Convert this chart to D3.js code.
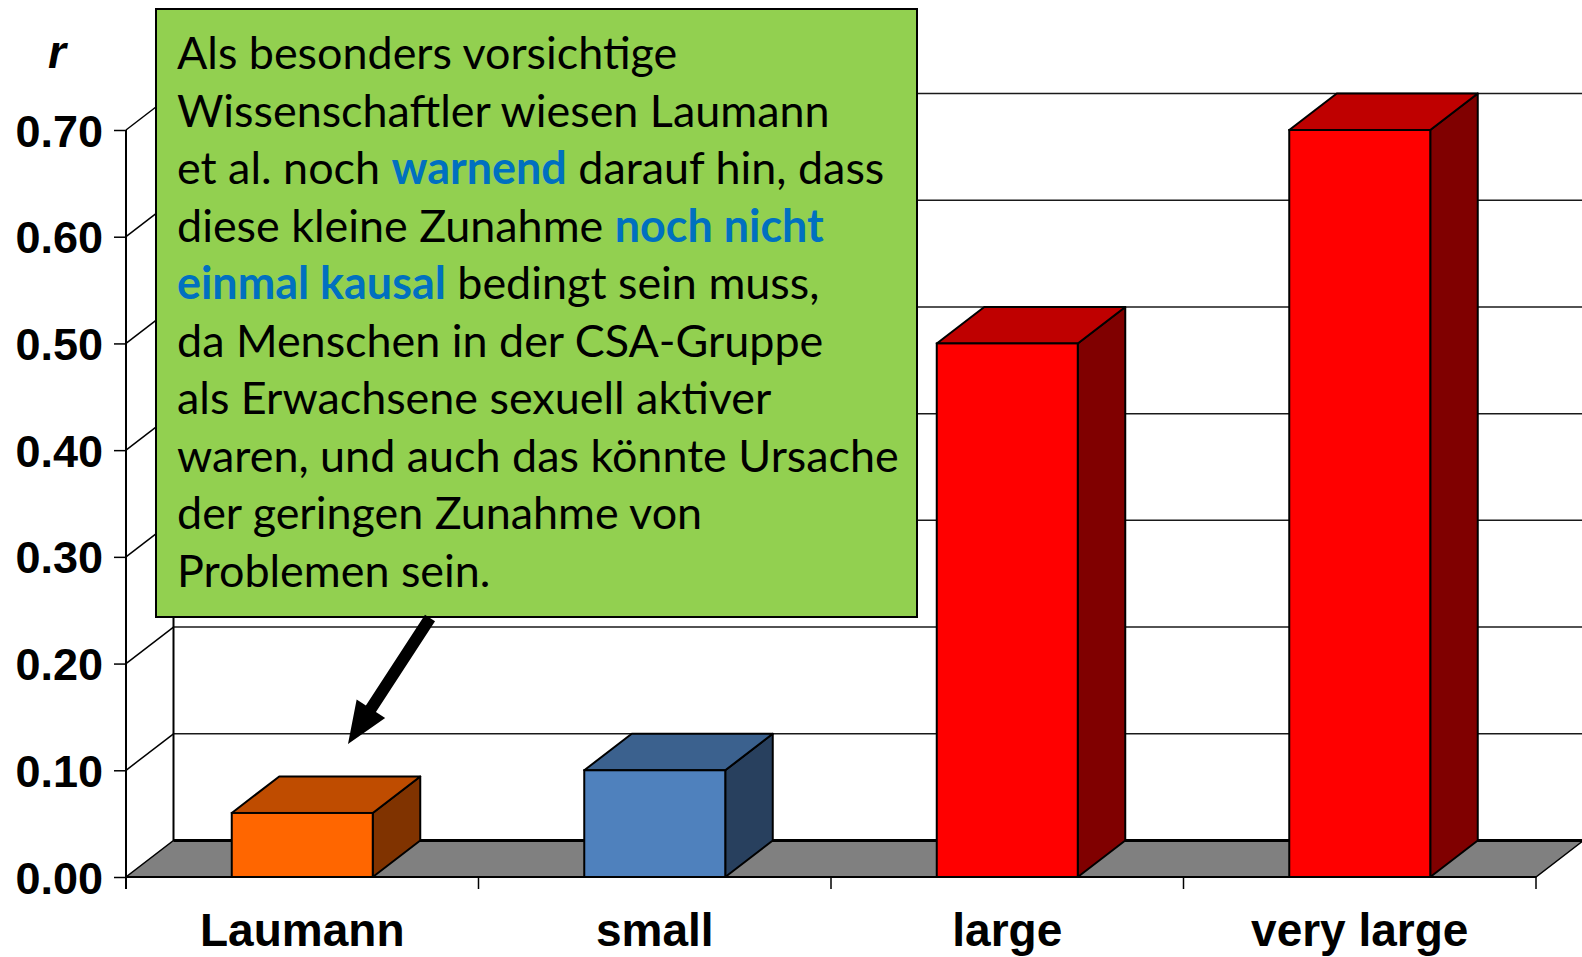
<!DOCTYPE html>
<html>
<head>
<meta charset="utf-8">
<script src="https://cdn.jsdelivr.net/npm/d3@7"></script>
<style>
  html, body { margin: 0; padding: 0; background: #fff; }
  svg { display: block; }
</style>
</head>
<body>
<div id="chart"></div>
<script>
// values
var categories = ["Laumann", "small", "large", "very large"];
var values = [0.06, 0.10, 0.50, 0.70];
var yTicks = [0, 0.1, 0.2, 0.3, 0.4, 0.5, 0.6, 0.7];

// bar colours: front, top, side
var frontColors = ["#FF6600", "#4F81BD", "#FF0000", "#FF0000"];
var topColors = ["#BF4C00", "#3B618E", "#BF0000", "#BF0000"];
var sideColors = ["#803300", "#28405E", "#800000", "#800000"];

// note text, one array per line, [text, highlighted]
var noteLines = [
  [["Als besonders vorsichtige", false]],
  [["Wissenschaftler wiesen Laumann", false]],
  [["et al. noch ", false], ["warnend", true], [" darauf hin, dass", false]],
  [["diese kleine Zunahme ", false], ["noch nicht", true]],
  [["einmal kausal", true], [" bedingt sein muss,", false]],
  [["da Menschen in der CSA-Gruppe", false]],
  [["als Erwachsene sexuell aktiver", false]],
  [["waren, und auch das könnte Ursache", false]],
  [["der geringen Zunahme von", false]],
  [["Problemen sein.", false]]
];

var width = 1582, height = 957;
var dx = 47.5, dy = -36.5;   // depth offset of the 3d look
var axisFont = "'Liberation Sans', Arial, sans-serif";

var svg = d3.select("#chart").append("svg")
    .attr("width", width)
    .attr("height", height);

var x = d3.scaleBand().domain(categories).range([126, 1536]).padding(0);
var y = d3.scaleLinear().domain([0, 0.7]).range([877, 130]);
var barW = x.bandwidth() * 0.4;
var x0 = x.range()[0], x1 = x.range()[1];

// back wall gridlines
svg.selectAll(".grid").data(yTicks.slice(1)).enter().append("line")
    .attr("x1", x0 + dx).attr("x2", x1 + dx)
    .attr("y1", function(d) { return y(d) + dy; })
    .attr("y2", function(d) { return y(d) + dy; })
    .attr("stroke", "#1a1a1a").attr("stroke-width", 1.5);

// side wall diagonals
svg.selectAll(".diag").data(yTicks.slice(1)).enter().append("line")
    .attr("x1", x0).attr("x2", x0 + dx)
    .attr("y1", function(d) { return y(d); })
    .attr("y2", function(d) { return y(d) + dy; })
    .attr("stroke", "#000").attr("stroke-width", 1.5);

// back wall left edge
svg.append("line")
    .attr("x1", x0 + dx).attr("x2", x0 + dx)
    .attr("y1", y(0) + dy).attr("y2", y(0.7) + dy)
    .attr("stroke", "#000").attr("stroke-width", 2);

// floor
svg.append("path")
    .attr("d", "M" + x0 + "," + y(0) + "L" + x1 + "," + y(0) +
      "L" + (x1 + dx) + "," + (y(0) + dy) + "L" + (x0 + dx) + "," + (y(0) + dy) + "Z")
    .attr("fill", "#808080").attr("stroke", "#000").attr("stroke-width", 1.5);
svg.append("line")
    .attr("x1", x0 + dx).attr("x2", x1 + dx)
    .attr("y1", y(0) + dy).attr("y2", y(0) + dy)
    .attr("stroke", "#000").attr("stroke-width", 3);

// bars
var bars = svg.selectAll(".bar").data(values).enter().append("g");
bars.each(function(v, i) {
  var g = d3.select(this);
  var bx = x(categories[i]) + (x.bandwidth() - barW) / 2;
  var top = y(v), base = y(0);
  g.append("path")
      .attr("d", "M" + (bx + barW) + "," + base + "L" + (bx + barW + dx) + "," + (base + dy) +
        "L" + (bx + barW + dx) + "," + (top + dy) + "L" + (bx + barW) + "," + top + "Z")
      .attr("fill", sideColors[i]).attr("stroke", "#000").attr("stroke-width", 2)
      .attr("stroke-linejoin", "round");
  g.append("path")
      .attr("d", "M" + bx + "," + top + "L" + (bx + dx) + "," + (top + dy) +
        "L" + (bx + barW + dx) + "," + (top + dy) + "L" + (bx + barW) + "," + top + "Z")
      .attr("fill", topColors[i]).attr("stroke", "#000").attr("stroke-width", 2)
      .attr("stroke-linejoin", "round");
  g.append("rect")
      .attr("x", bx).attr("y", top)
      .attr("width", barW).attr("height", base - top)
      .attr("fill", frontColors[i]).attr("stroke", "#000").attr("stroke-width", 2);
});

// y axis
var yAxis = svg.append("g")
    .attr("transform", "translate(" + x0 + ",0)")
    .call(d3.axisLeft(y).tickValues(yTicks).tickFormat(d3.format(".2f")).tickSize(12).tickPadding(11));
yAxis.select(".domain").attr("stroke-width", 2).attr("d", "M0," + y(0.7) + "V" + (y(0) + 12));
yAxis.selectAll(".tick line").attr("stroke-width", 1.5);
yAxis.selectAll(".tick text")
    .attr("font-family", axisFont).attr("font-weight", "bold")
    .attr("font-size", 45).attr("fill", "#000").attr("dy", "16px");

// x axis ticks at band edges
var xEdges = categories.map(function(c) { return x(c); }).concat([x1]);
svg.selectAll(".xtick").data(xEdges).enter().append("line")
    .attr("x1", function(d) { return d; }).attr("x2", function(d) { return d; })
    .attr("y1", y(0)).attr("y2", y(0) + 12)
    .attr("stroke", "#000").attr("stroke-width", 1.5);
svg.append("line")
    .attr("x1", x0).attr("x2", x1).attr("y1", y(0)).attr("y2", y(0))
    .attr("stroke", "#000").attr("stroke-width", 2);

svg.selectAll(".xlabel").data(categories).enter().append("text")
    .attr("x", function(d) { return x(d) + x.bandwidth() / 2; })
    .attr("y", 946)
    .attr("text-anchor", "middle")
    .attr("font-family", axisFont).attr("font-weight", "bold").attr("font-size", 46)
    .text(function(d) { return d; });

// axis title
svg.append("text")
    .attr("x", 57).attr("y", 68)
    .attr("text-anchor", "middle")
    .attr("font-family", axisFont).attr("font-weight", "bold").attr("font-style", "italic")
    .attr("font-size", 46)
    .text("r");

// note box
svg.append("rect")
    .attr("x", 156).attr("y", 9).attr("width", 761).attr("height", 608)
    .attr("fill", "#92D050").attr("stroke", "#000").attr("stroke-width", 2);

var note = svg.append("g");
var noteSize = 44;
var texts = noteLines.map(function(line, i) {
  var t = note.append("text")
      .attr("x", 177).attr("y", 69 + i * 57.5)
      .attr("font-family", "Lato, 'Noto Sans', sans-serif")
      .attr("font-size", noteSize).attr("fill", "#000");
  line.forEach(function(seg) {
    t.append("tspan")
        .attr("font-weight", seg[1] ? "bold" : "normal")
        .attr("fill", seg[1] ? "#0070C0" : "#000")
        .text(seg[0]);
  });
  return t;
});
// fit longest line to about 722px like the original
var widest = d3.max(texts, function(t) { return t.node().getComputedTextLength(); });
var fitted = noteSize * 722 / widest;
texts.forEach(function(t) { t.attr("font-size", fitted); });

// arrow to the Laumann bar
var arrowFrom = [430, 618], arrowTo = [348, 744];
var ang = Math.atan2(arrowTo[1] - arrowFrom[1], arrowTo[0] - arrowFrom[0]);
var headLen = 42, headHalf = 17, shaftHalf = 6;
var ux = Math.cos(ang), uy = Math.sin(ang), px = -uy, py = ux;
var hb = [arrowTo[0] - ux * headLen, arrowTo[1] - uy * headLen];
var pts = [
  [arrowFrom[0] + px * shaftHalf, arrowFrom[1] + py * shaftHalf],
  [hb[0] + px * shaftHalf, hb[1] + py * shaftHalf],
  [hb[0] + px * headHalf, hb[1] + py * headHalf],
  arrowTo,
  [hb[0] - px * headHalf, hb[1] - py * headHalf],
  [hb[0] - px * shaftHalf, hb[1] - py * shaftHalf],
  [arrowFrom[0] - px * shaftHalf, arrowFrom[1] - py * shaftHalf]
];
svg.append("path")
    .attr("d", d3.line()(pts) + "Z")
    .attr("fill", "#000");
</script>
</body>
</html>
